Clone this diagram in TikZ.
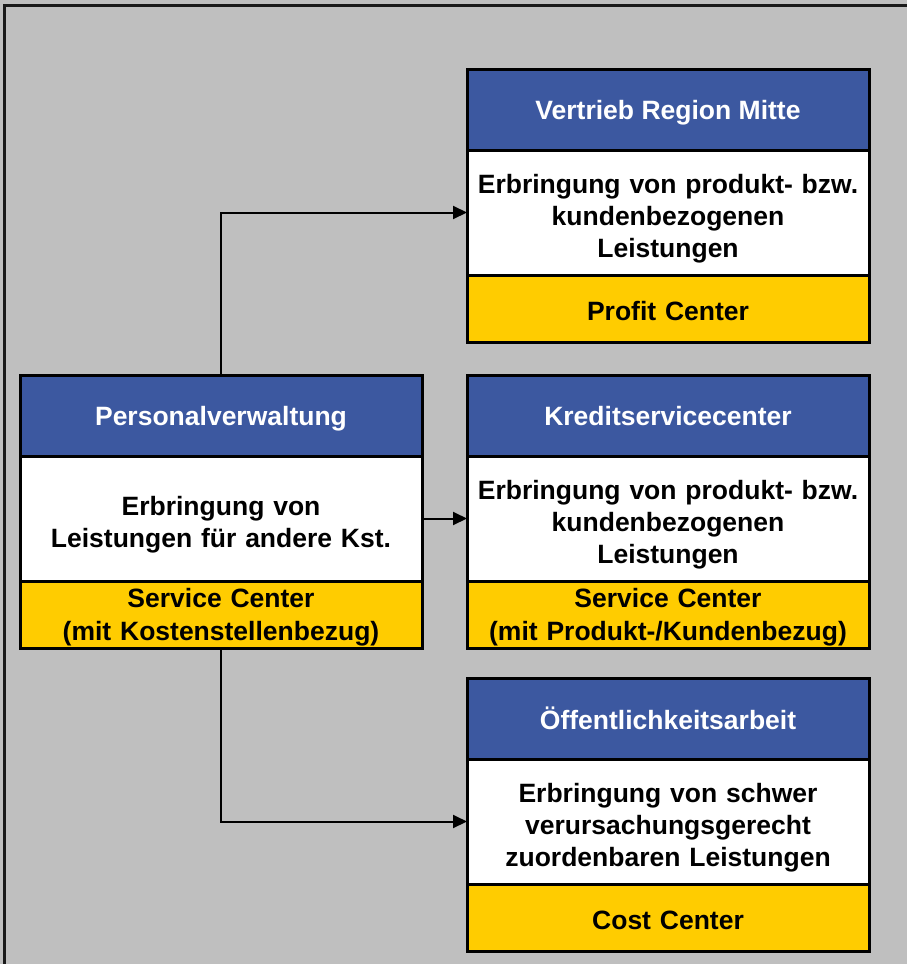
\documentclass[tikz,border=0pt]{standalone}
\usepackage{fontspec}
\setmainfont{Liberation Sans}
\usetikzlibrary{arrows.meta, positioning}
\definecolor{hdblue}{RGB}{60,88,160}
\definecolor{ctryel}{RGB}{255,204,0}
\definecolor{bggray}{RGB}{191,191,191}
\tikzset{
  hdbox/.style  ={draw, line width=3pt, fill=hdblue, text=white,
                  minimum width=402pt, minimum height=81pt, inner sep=0pt,
                  outer sep=0pt, text depth=-2pt,
                  font=\fontsize{26.5}{32}\selectfont\bfseries},
  txtbox/.style ={draw, line width=3pt, fill=white, text width=396pt,
                  align=center, minimum height=125pt, inner xsep=3pt,
                  inner ysep=0pt, outer sep=0pt, text height=31pt,
                  font=\fontsize{26.5}{32}\selectfont\bfseries},
  ctrbox/.style ={draw, line width=3pt, fill=ctryel, text width=396pt,
                  align=center, minimum height=67pt, inner xsep=3pt,
                  inner ysep=0pt, outer sep=0pt, text height=25pt,
                  font=\fontsize{26.5}{33}\selectfont\bfseries},
  conn/.style   ={-{Triangle[length=14pt, width=13pt]}, line width=2pt},
}
\begin{document}
\begin{tikzpicture}[x=1pt, y=-1pt]
  \fill[bggray] (0,0) rectangle (907,964);
  \useasboundingbox (0,0) rectangle (907,964);
  \draw[line width=3pt, black!90] (4.5,964) -- (4.5,5.5) -- (907,5.5);

  % Personalverwaltung
  \node[hdbox, anchor=north west] (pvHead) at (20,375) {Personalverwaltung};
  \node[txtbox, below=0pt of pvHead] (pvBody)
    {Erbringung von\\ Leistungen für andere Kst.};
  \node[ctrbox, below=0pt of pvBody] (pvFoot)
    {Service Center\\ (mit Kostenstellenbezug)};

  % Vertrieb Region Mitte
  \node[hdbox, anchor=north west] (vrHead) at (467,69) {Vertrieb Region Mitte};
  \node[txtbox, below=0pt of vrHead] (vrBody)
    {Erbringung von produkt- bzw.\\ kundenbezogenen\\ Leistungen};
  \node[ctrbox, below=0pt of vrBody] (vrFoot) {Profit Center};

  % Kreditservicecenter
  \node[hdbox, anchor=north west] (ksHead) at (467,375) {Kreditservicecenter};
  \node[txtbox, below=0pt of ksHead] (ksBody)
    {Erbringung von produkt- bzw.\\ kundenbezogenen\\ Leistungen};
  \node[ctrbox, below=0pt of ksBody] (ksFoot)
    {Service Center\\ (mit Produkt-/Kundenbezug)};

  % Oeffentlichkeitsarbeit
  \node[hdbox, anchor=north west] (oaHead) at (467,678) {Öffentlichkeitsarbeit};
  \node[txtbox, below=0pt of oaHead] (oaBody)
    {Erbringung von schwer\\ verursachungsgerecht\\ zuordenbaren Leistungen};
  \node[ctrbox, below=0pt of oaBody] (oaFoot) {Cost Center};

  % Verbindungen
  \draw[conn] (pvHead.north) |- (vrBody.west);
  \draw[conn] (pvBody.east) -- (ksBody.west);
  \draw[conn] (pvFoot.south) |- (oaBody.west);
\end{tikzpicture}
\end{document}
